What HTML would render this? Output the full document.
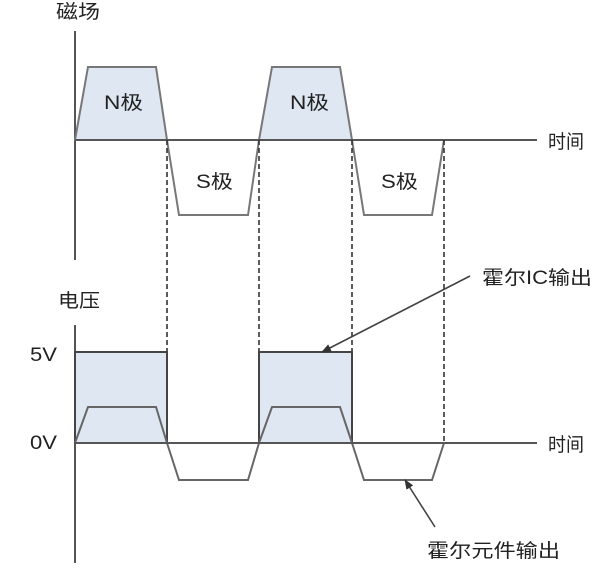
<!DOCTYPE html>
<html><head><meta charset="utf-8"><style>
html,body{margin:0;padding:0;background:#fff}
svg text{font-family:"Liberation Sans","Noto Sans CJK SC",sans-serif;fill:#222}
</style></head><body>
<svg width="604" height="572" viewBox="0 0 604 572" xmlns="http://www.w3.org/2000/svg">
<defs><marker id="ah" markerWidth="10" markerHeight="8" refX="9" refY="4" orient="auto" markerUnits="userSpaceOnUse"><path d="M0,0 L10,4 L0,8 z" fill="#333"/></marker></defs>
<!-- top -->
<text x="56" y="18" font-size="19" textLength="44" lengthAdjust="spacingAndGlyphs">磁场</text>
<line x1="75" y1="31" x2="75" y2="260" stroke="#555" stroke-width="2"/>
<polygon points="75,140 88,67 156,67 167,140" fill="#dfe7f2" stroke="#777" stroke-width="2"/>
<polygon points="259,140 272,67 340,67 352,140" fill="#dfe7f2" stroke="#777" stroke-width="2"/>
<polyline points="167,140 179,215 248,215 259,140" fill="none" stroke="#777" stroke-width="2"/>
<polyline points="352,140 364,215 432,215 444,140" fill="none" stroke="#777" stroke-width="2"/>
<line x1="75" y1="140" x2="537" y2="140" stroke="#555" stroke-width="2"/>
<text x="104" y="109" font-size="19" textLength="39" lengthAdjust="spacingAndGlyphs">N极</text>
<text x="290" y="109" font-size="19" textLength="39" lengthAdjust="spacingAndGlyphs">N极</text>
<text x="196" y="188" font-size="19" textLength="37" lengthAdjust="spacingAndGlyphs">S极</text>
<text x="381" y="188" font-size="19" textLength="37" lengthAdjust="spacingAndGlyphs">S极</text>
<text x="548" y="148" font-size="19" textLength="36" lengthAdjust="spacingAndGlyphs">时间</text>
<!-- dashed -->
<g stroke="#333" stroke-width="1.6" stroke-dasharray="5,3">
<line x1="167" y1="140" x2="167" y2="443"/><line x1="259" y1="140" x2="259" y2="443"/>
<line x1="352" y1="140" x2="352" y2="443"/><line x1="444" y1="140" x2="444" y2="443"/>
</g>
<!-- bottom -->
<text x="58" y="307" font-size="19" textLength="42" lengthAdjust="spacingAndGlyphs">电压</text>
<text x="30" y="361" font-size="19" textLength="27" lengthAdjust="spacingAndGlyphs">5V</text>
<text x="30" y="449" font-size="19" textLength="27" lengthAdjust="spacingAndGlyphs">0V</text>
<line x1="75" y1="325" x2="75" y2="563" stroke="#555" stroke-width="2"/>
<rect x="75" y="352" width="92" height="91" fill="#dfe7f2" stroke="#444" stroke-width="2"/>
<rect x="259" y="352" width="93" height="91" fill="#dfe7f2" stroke="#444" stroke-width="2"/>
<polyline points="75,443 88,407 156,407 167,443" fill="none" stroke="#666" stroke-width="2"/>
<polyline points="259,443 272,407 340,407 352,443" fill="none" stroke="#666" stroke-width="2"/>
<polyline points="167,443 179,480 248,480 259,443" fill="none" stroke="#666" stroke-width="2"/>
<polyline points="352,443 364,480 432,480 444,443" fill="none" stroke="#666" stroke-width="2"/>
<line x1="75" y1="443" x2="537" y2="443" stroke="#555" stroke-width="2"/>
<text x="548" y="451" font-size="19" textLength="36" lengthAdjust="spacingAndGlyphs">时间</text>
<line x1="470" y1="276" x2="322" y2="352" stroke="#444" stroke-width="1.6" marker-end="url(#ah)"/>
<text x="482" y="284" font-size="19" textLength="110" lengthAdjust="spacingAndGlyphs">霍尔IC输出</text>
<line x1="435" y1="527" x2="405" y2="480" stroke="#444" stroke-width="1.6" marker-end="url(#ah)"/>
<text x="427" y="557" font-size="19" textLength="133" lengthAdjust="spacingAndGlyphs">霍尔元件输出</text>
</svg>
</body></html>
